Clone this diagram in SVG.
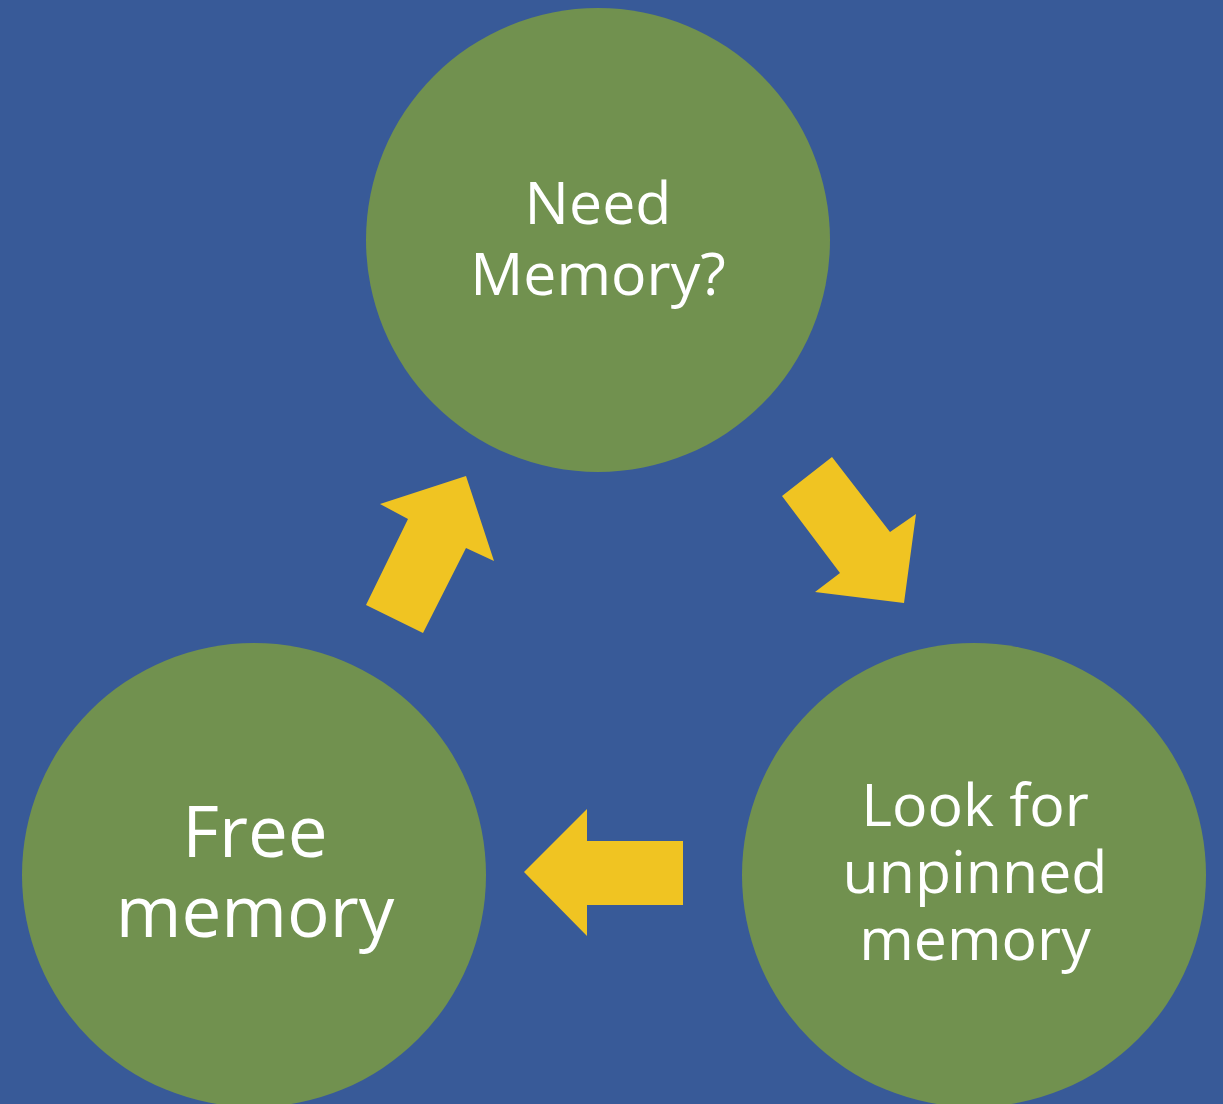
<svg xmlns="http://www.w3.org/2000/svg" width="1223" height="1104" viewBox="0 0 1223 1104">
<style>
.node{fill:#71914f}
.lbl{fill:#ffffff;font-family:"Open Sans","Noto Sans",sans-serif;text-anchor:middle}
.arrow{fill:#f0c422}
</style>
<rect width="1223" height="1104" fill="#385a98"/>
<g id="need-memory">
<circle class="node" cx="598" cy="240" r="232"/>
<text class="lbl" font-size="59" x="598" y="224">Need</text>
<text class="lbl" font-size="59" x="598" y="295">Memory?</text>
</g>
<g id="look-for-unpinned">
<circle class="node" cx="974" cy="875" r="232"/>
<text class="lbl" font-size="59" x="975" y="826">Look for</text>
<text class="lbl" font-size="59" x="975" y="893">unpinned</text>
<text class="lbl" font-size="59" x="975" y="960">memory</text>
</g>
<g id="free-memory">
<circle class="node" cx="254" cy="875" r="232"/>
<text class="lbl" font-size="71" x="255" y="857">Free</text>
<text class="lbl" font-size="71" x="255" y="937">memory</text>
</g>
<g id="connectors">
<polygon class="arrow" points="380,504 466,476 494,561 466,548 423,633 366,605 408,519"/>
<polygon class="arrow" points="782,496 832,457 890,532 916,514 904,603 815,592 840,573"/>
<polygon class="arrow" points="683,841 587,841 587,809 524,872 587,936 587,905 683,905"/>
</g>
</svg>
